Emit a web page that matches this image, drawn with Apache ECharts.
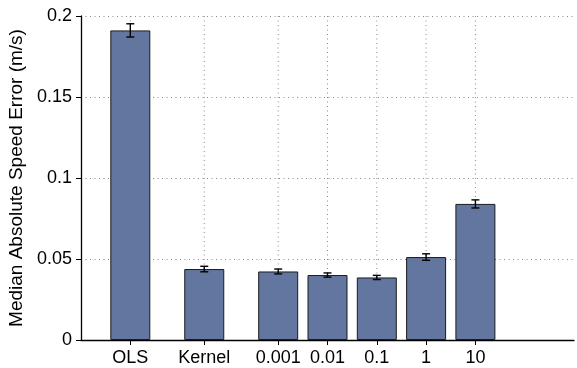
<!DOCTYPE html>
<html>
<head>
<meta charset="utf-8">
<script src="https://cdn.jsdelivr.net/npm/echarts@6/dist/echarts.min.js"></script>
<style>
  html, body { margin: 0; padding: 0; background: #fff; }
  #chart { width: 577px; height: 368px; }
</style>
</head>
<body>
<div id="chart"></div>
<script>
// Methods compared, and where each one sits on the horizontal axis
const categories = ['OLS', 'Kernel', '0.001', '0.01', '0.1', '1', '10'];
const xSlots = [1, 2.5, 4, 5, 6, 7, 8];
// Median absolute speed error (m/s) and its error-bar half-width
const medians = [0.1911, 0.0438, 0.0423, 0.0401, 0.0386, 0.0512, 0.0840];
const errors = [0.0041, 0.0017, 0.0015, 0.0013, 0.0013, 0.0020, 0.0025];
// Y axis ticks
const yTicks = [0, 0.05, 0.1, 0.15, 0.2];

const FONT = '"Liberation Sans", Arial, Helvetica, sans-serif';
const gridDash = { color: '#8a8a8a', width: 1, type: [1, 3.5] };

const labelFor = {};
xSlots.forEach((x, i) => { labelFor[x] = categories[i]; });

const barData = xSlots.map((x, i) => [x, medians[i]]);
const errData = xSlots.map((x, i) => [x, medians[i] - errors[i], medians[i] + errors[i]]);
const vGridData = xSlots.map(x => [x]);

const chart = echarts.init(document.getElementById('chart'), null, { renderer: 'canvas' });

chart.setOption({
  animation: false,
  backgroundColor: '#ffffff',
  grid: { left: 81, right: 3, top: 16, bottom: 28, containLabel: false, outerBoundsMode: 'none' },
  xAxis: {
    type: 'value',
    min: 0,
    max: 10,
    axisLine: { show: true, onZero: false, lineStyle: { color: '#000', width: 1.3 } },
    axisTick: { show: true, inside: false, length: 5, customValues: xSlots, lineStyle: { color: '#000' } },
    axisLabel: {
      customValues: xSlots,
      color: '#000',
      fontFamily: FONT,
      fontSize: 18,
      margin: 9,
      formatter: v => labelFor[v] || ''
    },
    splitLine: { show: false }
  },
  yAxis: {
    type: 'value',
    min: 0,
    max: 0.2,
    interval: 0.05,
    name: 'Median Absolute Speed Error (m/s)',
    nameLocation: 'middle',
    nameGap: 42,
    nameTextStyle: { color: '#000', fontFamily: FONT, fontSize: 19 },
    axisLine: { show: true, lineStyle: { color: '#000', width: 1.3 } },
    axisTick: { show: true, inside: false, length: 5, lineStyle: { color: '#000' } },
    axisLabel: {
      color: '#000',
      fontFamily: FONT,
      fontSize: 18,
      margin: 9,
      formatter: v => {
        const t = yTicks.find(k => Math.abs(k - v) < 1e-9);
        return t === undefined ? '' : String(t);
      }
    },
    splitLine: { show: true, lineStyle: gridDash }
  },
  series: [
    {
      // dotted vertical grid lines at each method slot
      type: 'custom',
      z: 1,
      silent: true,
      data: vGridData,
      renderItem: (params, api) => {
        const top = api.coord([api.value(0), 0.2]);
        const bottom = api.coord([api.value(0), 0]);
        return {
          type: 'line',
          shape: { x1: top[0], y1: top[1], x2: bottom[0], y2: bottom[1] },
          style: { stroke: gridDash.color, lineWidth: 1, lineDash: [1, 3.5] }
        };
      }
    },
    {
      type: 'bar',
      z: 2,
      data: barData,
      barWidth: 40,
      itemStyle: { color: '#63769f', borderColor: '#1b1b1b', borderWidth: 1 }
    },
    {
      // error bars with caps
      type: 'custom',
      z: 3,
      data: errData,
      renderItem: (params, api) => {
        const x = api.value(0);
        const lo = api.coord([x, api.value(1)]);
        const hi = api.coord([x, api.value(2)]);
        const cap = 4;
        const st = { stroke: '#000', lineWidth: 1.4 };
        return {
          type: 'group',
          children: [
            { type: 'line', shape: { x1: lo[0], y1: lo[1], x2: hi[0], y2: hi[1] }, style: st },
            { type: 'line', shape: { x1: lo[0] - cap, y1: lo[1], x2: lo[0] + cap, y2: lo[1] }, style: st },
            { type: 'line', shape: { x1: hi[0] - cap, y1: hi[1], x2: hi[0] + cap, y2: hi[1] }, style: st }
          ]
        };
      }
    }
  ]
});
</script>
</body>
</html>
